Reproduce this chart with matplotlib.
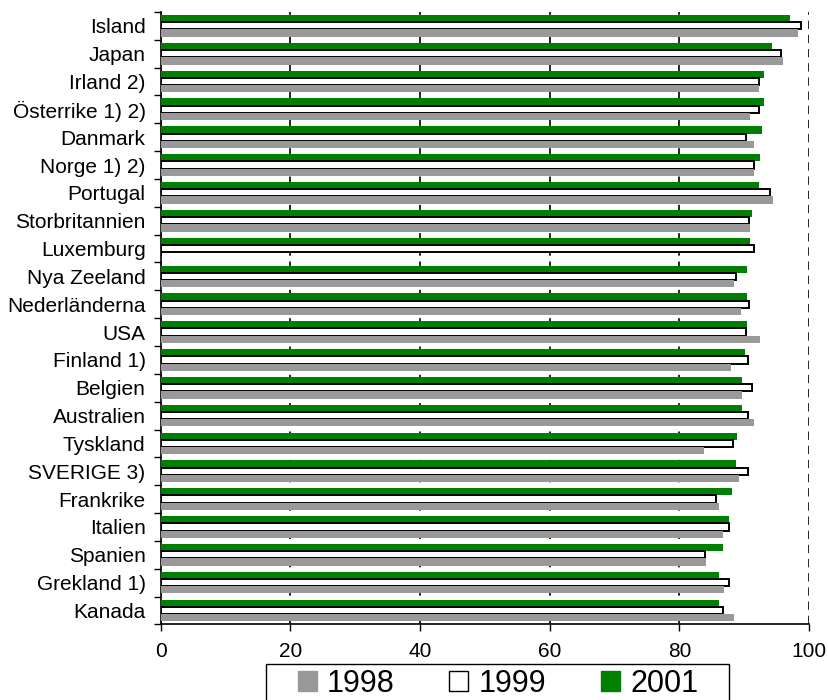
import numpy as np
import matplotlib.pyplot as plt
from matplotlib.patches import Patch, Rectangle

plt.rcParams['font.family'] = ['Liberation Sans', 'DejaVu Sans']

countries = ['Island', 'Japan', 'Irland 2)', 'Österrike 1) 2)', 'Danmark', 'Norge 1) 2)',
             'Portugal', 'Storbritannien', 'Luxemburg', 'Nya Zeeland', 'Nederländerna',
             'USA', 'Finland 1)', 'Belgien', 'Australien', 'Tyskland', 'SVERIGE 3)',
             'Frankrike', 'Italien', 'Spanien', 'Grekland 1)', 'Kanada']

# values (Luxemburg has no 1998 value)
v1998 = [98.3, 96.0, 92.3, 90.9, 91.5, 91.5, 94.4, 90.9, np.nan, 88.4, 89.5,
         92.4, 88.0, 89.7, 91.5, 83.8, 89.2, 86.1, 86.7, 84.1, 86.9, 88.4]
v1999 = [98.7, 95.7, 92.2, 92.2, 90.2, 91.5, 94.0, 90.7, 91.5, 88.7, 90.8,
         90.2, 90.5, 91.2, 90.5, 88.2, 90.5, 85.7, 87.7, 83.9, 87.7, 86.7]
v2001 = [97.1, 94.3, 93.1, 93.1, 92.8, 92.4, 92.3, 91.2, 90.9, 90.4, 90.4,
         90.4, 90.1, 89.7, 89.7, 88.9, 88.7, 88.1, 87.7, 86.7, 86.1, 86.1]

green = '#008000'
grey = '#999999'

fig = plt.figure(figsize=(8.29, 7.0), dpi=100)
ax = fig.add_axes([0.194, 0.108, 0.782, 0.875])

y = np.arange(len(countries))
h = 0.26
ax.barh(y - h, v2001, height=h, color=green, zorder=3)
ax.barh(y, v1999, height=h, color='white', edgecolor='black', linewidth=1.4, zorder=3)
ax.barh(y + h, v1998, height=h, color=grey, zorder=3)

ax.set_xlim(0, 100)
ax.set_ylim(len(countries) - 0.5, -0.5)
ax.set_xticks([0, 20, 40, 60, 80, 100])
ax.set_yticks(y)
ax.set_yticklabels(countries)
ax.set_yticks(np.arange(len(countries) + 1) - 0.5, minor=True)
ax.tick_params(axis='y', which='major', length=0, labelsize=15, pad=11)
ax.tick_params(axis='y', which='minor', length=5, width=1, direction='out')
ax.tick_params(axis='x', length=5, width=1, direction='out', labelsize=15, pad=8)

ax.grid(axis='x', color='black', linestyle=(0, (5, 3.5)), linewidth=1.2)
ax.set_axisbelow(True)
for s in ['top', 'right']:
    ax.spines[s].set_visible(False)
for s in ['left', 'bottom']:
    ax.spines[s].set_linewidth(1.2)

handles = [Patch(facecolor=grey, edgecolor=grey),
           Patch(facecolor='white', edgecolor='black'),
           Patch(facecolor=green, edgecolor=green)]
leg = fig.legend(handles, ['1998', '1999', '2001'], loc='upper center',
                 bbox_to_anchor=(0.6007, 0.0443), ncol=3, fontsize=22,
                 handlelength=0.62, handleheight=0.62, handletextpad=0.33,
                 columnspacing=1.8, frameon=False, borderpad=0, borderaxespad=0)

# legend box, cut by the lower edge like in the original
fig.patches.append(Rectangle((266 / 829, -0.02), (729 - 266) / 829, 36 / 700 + 0.02,
                             transform=fig.transFigure, fill=False,
                             edgecolor='black', linewidth=1.0))

fig.savefig('out.png', dpi=100)
